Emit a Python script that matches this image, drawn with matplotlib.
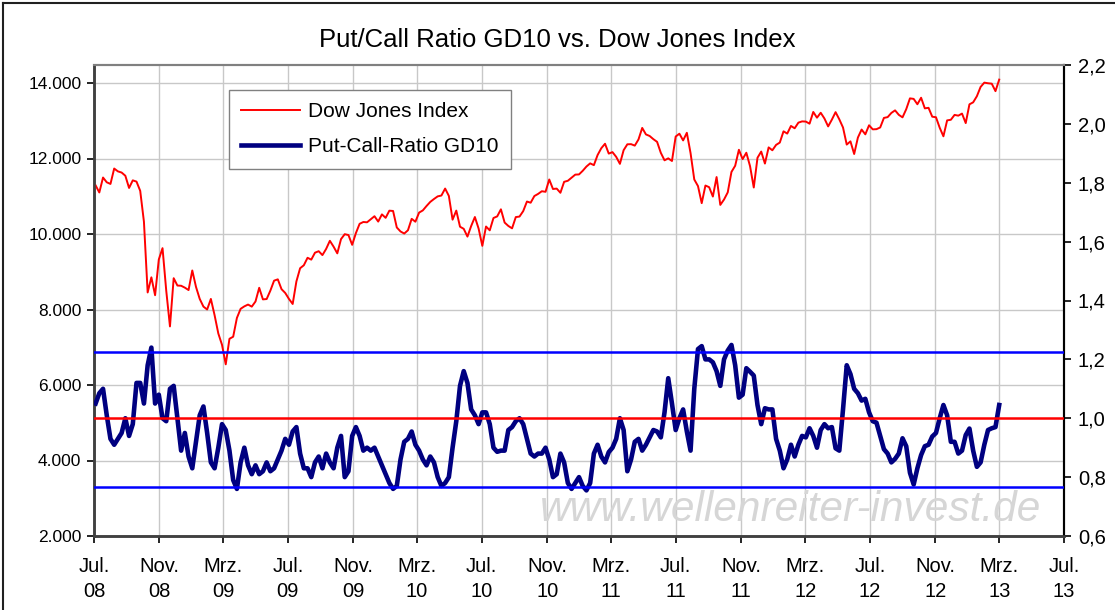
import pandas as pd
import matplotlib.pyplot as plt
from matplotlib.lines import Line2D

plt.rcParams['font.family'] = ['Liberation Sans', 'DejaVu Sans']

# Weekly closes of the Dow Jones Index (Fridays, Jul 2008 - Mar 2013)
dow_2008 = [11288, 11100, 11496, 11370, 11326, 11734, 11659, 11628, 11543, 11220,
            11421, 11388, 11143, 10325, 8451, 8852, 8378, 9325, 9625, 8497,
            7552, 8829, 8635, 8629, 8579, 8515]
dow_2009 = [9034, 8599, 8281, 8077, 8000, 8280, 7850, 7366, 7063, 6547,
            7224, 7279, 7776, 8018, 8083, 8131, 8076, 8212, 8575, 8268,
            8277, 8500, 8764, 8799, 8539, 8438, 8280, 8146, 8743, 9093,
            9172, 9370, 9321, 9505, 9544, 9441, 9605, 9820, 9665, 9487,
            9865, 9995, 9972, 9713, 10023, 10270, 10318, 10310, 10389, 10471,
            10329, 10520, 10428]
dow_2010 = [10618, 10610, 10173, 10067, 10012, 10099, 10402, 10325, 10567, 10625,
            10742, 10850, 10927, 10997, 11019, 11204, 11009, 10380, 10620, 10193,
            10137, 9931, 10211, 10450, 10144, 9686, 10198, 10097, 10424, 10466,
            10654, 10303, 10213, 10150, 10448, 10462, 10607, 10860, 10829, 11006,
            11062, 11133, 11118, 11444, 11192, 11203, 11092, 11382, 11410, 11491,
            11573, 11578]
dow_2011 = [11674, 11787, 11871, 11824, 12092, 12273, 12391, 12130, 12169, 12044,
            11858, 12220, 12376, 12380, 12341, 12505, 12810, 12638, 12596, 12512,
            12441, 12151, 11952, 12004, 11934, 12582, 12657, 12479, 12681, 12143,
            11444, 11269, 10817, 11284, 11240, 10992, 11509, 10771, 10913, 11103,
            11644, 11808, 12231, 11983, 12153, 11796, 11231, 12019, 12184, 11866,
            12294, 12218]
dow_2012 = [12360, 12422, 12720, 12660, 12862, 12801, 12950, 12983, 12978, 12922,
            13233, 13081, 13212, 13060, 12850, 13029, 13228, 13038, 12821, 12369,
            12454, 12119, 12554, 12767, 12640, 12880, 12772, 12777, 12822, 13075,
            13096, 13207, 13275, 13157, 13090, 13306, 13593, 13579, 13437, 13610,
            13328, 13343, 13107, 13093, 12815, 12588, 13010, 13026, 13155, 13135,
            13190, 12938]
dow_2013 = [13435, 13488, 13650, 13896, 14010, 13993, 13982, 13784, 14090]

# Put-Call-Ratio GD10, same weeks
pcr_values = [1.05, 1.085, 1.10, 1.01, 0.93, 0.91, 0.93, 0.95, 1.00, 0.94,
              0.98, 1.12, 1.12, 1.05, 1.18, 1.24, 1.05, 1.08, 1.00, 0.99,
              1.10, 1.11, 1.00, 0.89, 0.95, 0.87, 0.83, 0.92, 1.01, 1.04,
              0.95, 0.85, 0.83, 0.90, 0.98, 0.96, 0.89, 0.79, 0.76, 0.85,
              0.90, 0.84, 0.81, 0.84, 0.81, 0.82, 0.85, 0.82, 0.83, 0.86,
              0.89, 0.93, 0.91, 0.955, 0.97, 0.88, 0.83, 0.83, 0.80, 0.85,
              0.87, 0.83, 0.88, 0.85, 0.83, 0.90, 0.94, 0.80, 0.82, 0.94,
              0.97, 0.94, 0.89, 0.90, 0.89, 0.90, 0.87, 0.84, 0.81, 0.78,
              0.76, 0.77, 0.86, 0.92, 0.93, 0.955, 0.91, 0.89, 0.86, 0.84,
              0.87, 0.85, 0.80, 0.77, 0.78, 0.80, 0.90, 0.99, 1.11, 1.16,
              1.12, 1.03, 1.01, 0.98, 1.02, 1.02, 0.98, 0.90, 0.886, 0.89,
              0.89, 0.96, 0.97, 0.99, 1.00, 0.98, 0.93, 0.88, 0.87, 0.88,
              0.88, 0.90, 0.86, 0.80, 0.81, 0.88, 0.85, 0.78, 0.76, 0.78,
              0.80, 0.77, 0.755, 0.78, 0.88, 0.91, 0.87, 0.85, 0.885, 0.90,
              0.93, 1.00, 0.96, 0.82, 0.86, 0.92, 0.93, 0.89, 0.91, 0.935,
              0.96, 0.955, 0.935, 1.02, 1.136, 1.05, 0.96, 1.00, 1.03, 0.955,
              0.89, 1.10, 1.235, 1.245, 1.20, 1.20, 1.19, 1.16, 1.11, 1.20,
              1.23, 1.249, 1.18, 1.07, 1.08, 1.17, 1.158, 1.145, 1.045, 0.98,
              1.034, 1.03, 1.03, 0.93, 0.89, 0.83, 0.86, 0.91, 0.87, 0.91,
              0.94, 0.935, 0.966, 0.94, 0.90, 0.96, 0.98, 0.966, 0.97, 0.898,
              0.89, 1.03, 1.18, 1.15, 1.10, 1.085, 1.06, 1.066, 1.02, 0.99,
              0.985, 0.94, 0.895, 0.88, 0.85, 0.862, 0.88, 0.932, 0.905, 0.815,
              0.775, 0.83, 0.875, 0.905, 0.91, 0.938, 0.95, 1.00, 1.045, 1.01,
              0.92, 0.92, 0.88, 0.89, 0.943, 0.965, 0.89, 0.835, 0.85, 0.91,
              0.96, 0.966, 0.97, 1.045]

# reference lines on the ratio axis
upper_band = 1.225
mid_line = 1.0
lower_band = 0.765

dow_values = dow_2008 + dow_2009 + dow_2010 + dow_2011 + dow_2012 + dow_2013
dates = pd.date_range('2008-07-04', periods=len(dow_values), freq='W-FRI')

tick_dates = pd.date_range('2008-07-01', '2013-07-01', freq='4MS')
month_names = {7: 'Jul.', 11: 'Nov.', 3: 'Mrz.'}
tick_labels = [f"{month_names[d.month]}\n{d.strftime('%y')}" for d in tick_dates]

left_ticks = list(range(2000, 14001, 2000))
right_ticks = [0.6, 0.8, 1.0, 1.2, 1.4, 1.6, 1.8, 2.0, 2.2]

fig = plt.figure(figsize=(11.15, 6.10), dpi=100)
ax = fig.add_axes([94 / 1115, 1 - 536 / 610, 970 / 1115, 471 / 610])
ax2 = ax.twinx()

# Dow Jones on the left axis
ax.plot(dates, dow_values, color='#ff0000', linewidth=1.4, zorder=3)
ax.set_ylim(2000, 2000 + 471 / 75.5 * 2000)
ax.set_yticks(left_ticks)
ax.set_yticklabels([f"{v:,}".replace(',', '.') for v in left_ticks])
ax.set_xlim(pd.Timestamp('2008-07-01'), pd.Timestamp('2013-07-01'))
ax.set_xticks(tick_dates)
ax.set_xticklabels(tick_labels, linespacing=1.4)
ax.grid(True, color='#c8c8c8', linewidth=1.0)
ax.set_axisbelow(True)

# Put-Call-Ratio on the right axis
ax2.plot(dates[:len(pcr_values)], pcr_values, color='#000080', linewidth=3.3, zorder=3)
ax2.axhline(upper_band, color='#0000ff', linewidth=1.8, zorder=4)
ax2.axhline(lower_band, color='#0000ff', linewidth=1.8, zorder=4)
ax2.axhline(mid_line, color='#ff0000', linewidth=1.8, zorder=4)
ax2.set_ylim(0.6, 2.2)
ax2.set_yticks(right_ticks)
ax2.set_yticklabels([f"{v:.1f}".replace('.', ',') for v in right_ticks])

for a in (ax, ax2):
    a.tick_params(length=5, width=1.2, colors='#000000', direction='out')
    a.spines['top'].set_color('#808080')
    a.spines['top'].set_linewidth(1.5)
    a.spines['left'].set_color('#404040')
    a.spines['left'].set_linewidth(1.8)
    a.spines['bottom'].set_color('#404040')
    a.spines['bottom'].set_linewidth(1.8)
    a.spines['right'].set_color('#000000')
    a.spines['right'].set_linewidth(1.5)
ax.tick_params(axis='y', labelsize=12.5, pad=4)
ax.tick_params(axis='x', labelsize=14.5, pad=10)
ax2.tick_params(axis='y', labelsize=14.5, pad=5)

# watermark
ax2.text(0.718, 0.055, 'www.wellenreiter-invest.de', transform=ax.transAxes,
         fontsize=30.5, style='italic', color='#d6d6d6', ha='center', va='center', zorder=2)

fig.text(0.5, 1 - 40 / 610, 'Put/Call Ratio GD10 vs. Dow Jones Index',
         ha='center', va='center', fontsize=18.5)

handles = [Line2D([], [], color='#ff0000', linewidth=1.4),
           Line2D([], [], color='#000080', linewidth=3.3)]
leg = ax2.legend(handles, ['Dow Jones Index', 'Put-Call-Ratio GD10'],
                 loc='upper left', bbox_to_anchor=(0.139, 0.947), fontsize=15,
                 frameon=True, fancybox=False, edgecolor='#808080', framealpha=1,
                 handlelength=2.8, handletextpad=0.4, borderpad=0.6,
                 labelspacing=0.75, borderaxespad=0)
leg.get_frame().set_linewidth(1.0)
leg.set_zorder(10)

# outer chart border (top and left edges)
fig.add_artist(Line2D([3 / 1115, 3 / 1115], [0, 1 - 3 / 610], color='#202020',
                      linewidth=1.5, transform=fig.transFigure))
fig.add_artist(Line2D([3 / 1115, 1], [1 - 3 / 610, 1 - 3 / 610], color='#202020',
                      linewidth=1.5, transform=fig.transFigure))

fig.savefig('out.png', dpi=100)
